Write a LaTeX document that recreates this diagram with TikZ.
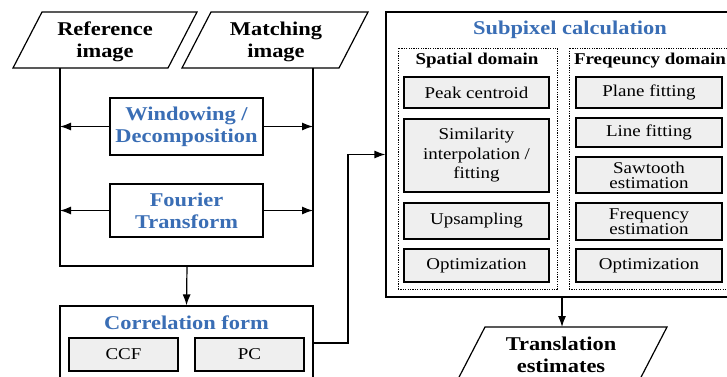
\documentclass[tikz,border=0pt]{standalone}
\usepackage{fontspec}
\setmainfont{Liberation Serif}[FakeStretch=1.15]
\usetikzlibrary{arrows.meta}
\definecolor{tblue}{HTML}{3A6EB5}
\definecolor{gfill}{HTML}{EFEFEF}
\begin{document}
\begin{tikzpicture}[x=1pt,y=-1pt, line width=1.2pt,
 wbox/.style={draw, fill=white, align=center, inner sep=0pt},
 gbox/.style={draw, fill=gfill, align=center, inner sep=0pt, font=\fontsize{16.5}{19.5}\selectfont},
 btitle/.style={font=\fontsize{19.5}{22}\selectfont\bfseries, text=tblue, align=center, inner sep=0pt},
 ktitle/.style={font=\fontsize{19.5}{22}\selectfont\bfseries, align=center, inner sep=0pt},
 stitle/.style={font=\fontsize{16.5}{19}\selectfont\bfseries, align=center, inner sep=0pt},
 arr/.style={-{Latex[length=11pt,width=8pt]}},
 dbox/.style={draw, line width=1pt, dash pattern=on 1.2pt off 1.2pt, inner sep=0pt}]
\useasboundingbox (0,0) rectangle (727,376);
\clip (0,0) rectangle (727,376);
% input parallelograms
\draw (42,12) -- (197,12) -- (168,68) -- (13,68) -- cycle;
\node[ktitle] (ref) at (105,42) {Reference\\image};
\draw (211,12) -- (368,12) -- (339,68) -- (182,68) -- cycle;
\node[ktitle] (mat) at (276,42) {Matching\\image};
% enclosure
\coordinate (refb) at (60,68);
\coordinate (matb) at (313,68);
\coordinate (bl) at (60,266);
\coordinate (br) at (313,266);
\coordinate (mid) at (187,266);
\draw (refb) -- (bl) -- (br) -- (matb);
% windowing / fourier
\node[wbox, minimum width=153pt, minimum height=57pt, btitle, draw=black] (win) at (186.5,126.5) {Windowing /\\Decomposition};
\node[wbox, minimum width=153pt, minimum height=53pt, btitle, draw=black] (fft) at (186.5,210.5) {Fourier\\Transform};
\draw[arr] (win.west) -- (win.west -| bl);
\draw[arr] (win.east) -- (win.east -| br);
\draw[arr] (fft.west) -- (fft.west -| bl);
\draw[arr] (fft.east) -- (fft.east -| br);
% correlation form
\node[wbox, minimum width=253pt, minimum height=114pt] (corr) at (186.5,363) {};
\draw[arr] (mid) -- (corr.north);
\node[btitle] (corrt) at (186.5,323) {Correlation form};
\node[gbox, minimum width=109pt, minimum height=33pt] (ccf) at (123.5,354.5) {CCF};
\node[gbox, minimum width=109pt, minimum height=33pt] (pc) at (249.5,354.5) {PC};
% subpixel
\node[wbox, minimum width=374pt, minimum height=285pt] (sub) at (573,154.5) {};
\node[btitle] (subt) at (570,30) {Subpixel calculation};
\coordinate (c1) at (313,343);
\draw[arr] (c1) -- (348,343) |- (sub.west);
% domains
\node[dbox, minimum width=159pt, minimum height=241pt] (spd) at (477.5,168.5) {};
\node[dbox, minimum width=171pt, minimum height=241pt] (frd) at (654.5,168.5) {};
\node[stitle] (spt) at (477,61) {Spatial domain};
\node[stitle] (frt) at (650,61) {Freqeuncy domain};
% spatial boxes
\node[gbox, minimum width=145pt, minimum height=31pt] (s1) at (476.5,92.5) {Peak centroid};
\node[gbox, minimum width=145pt, minimum height=73pt] (s2) at (476.5,155.5) {Similarity\\interpolation /\\fitting};
\node[gbox, minimum width=145pt, minimum height=36pt] (s3) at (476.5,221) {Upsampling};
\node[gbox, minimum width=145pt, minimum height=33pt] (s4) at (476.5,265.5) {Optimization};
% frequency boxes
\node[gbox, minimum width=146pt, minimum height=31pt] (f1) at (649,92.5) {Plane fitting};
\node[gbox, minimum width=146pt, minimum height=29pt] (f2) at (649,132.5) {Line fitting};
\node[gbox, minimum width=146pt, minimum height=36pt, font=\fontsize{16.5}{15}\selectfont] (f3) at (649,175) {Sawtooth\\estimation};
\node[gbox, minimum width=146pt, minimum height=37pt, font=\fontsize{16.5}{15}\selectfont] (f4) at (649,221.5) {Frequency\\estimation};
\node[gbox, minimum width=146pt, minimum height=33pt] (f5) at (649,265.5) {Optimization};
% output
\coordinate (sb) at (562,297);
\coordinate (tt) at (562,327);
\draw[arr] (sb) -- (tt);
\draw (485,327) -- (667,327) -- (638,383) -- (456,383) -- cycle;
\node[ktitle] (trans) at (561,355) {Translation\\estimates};
\end{tikzpicture}
\end{document}
